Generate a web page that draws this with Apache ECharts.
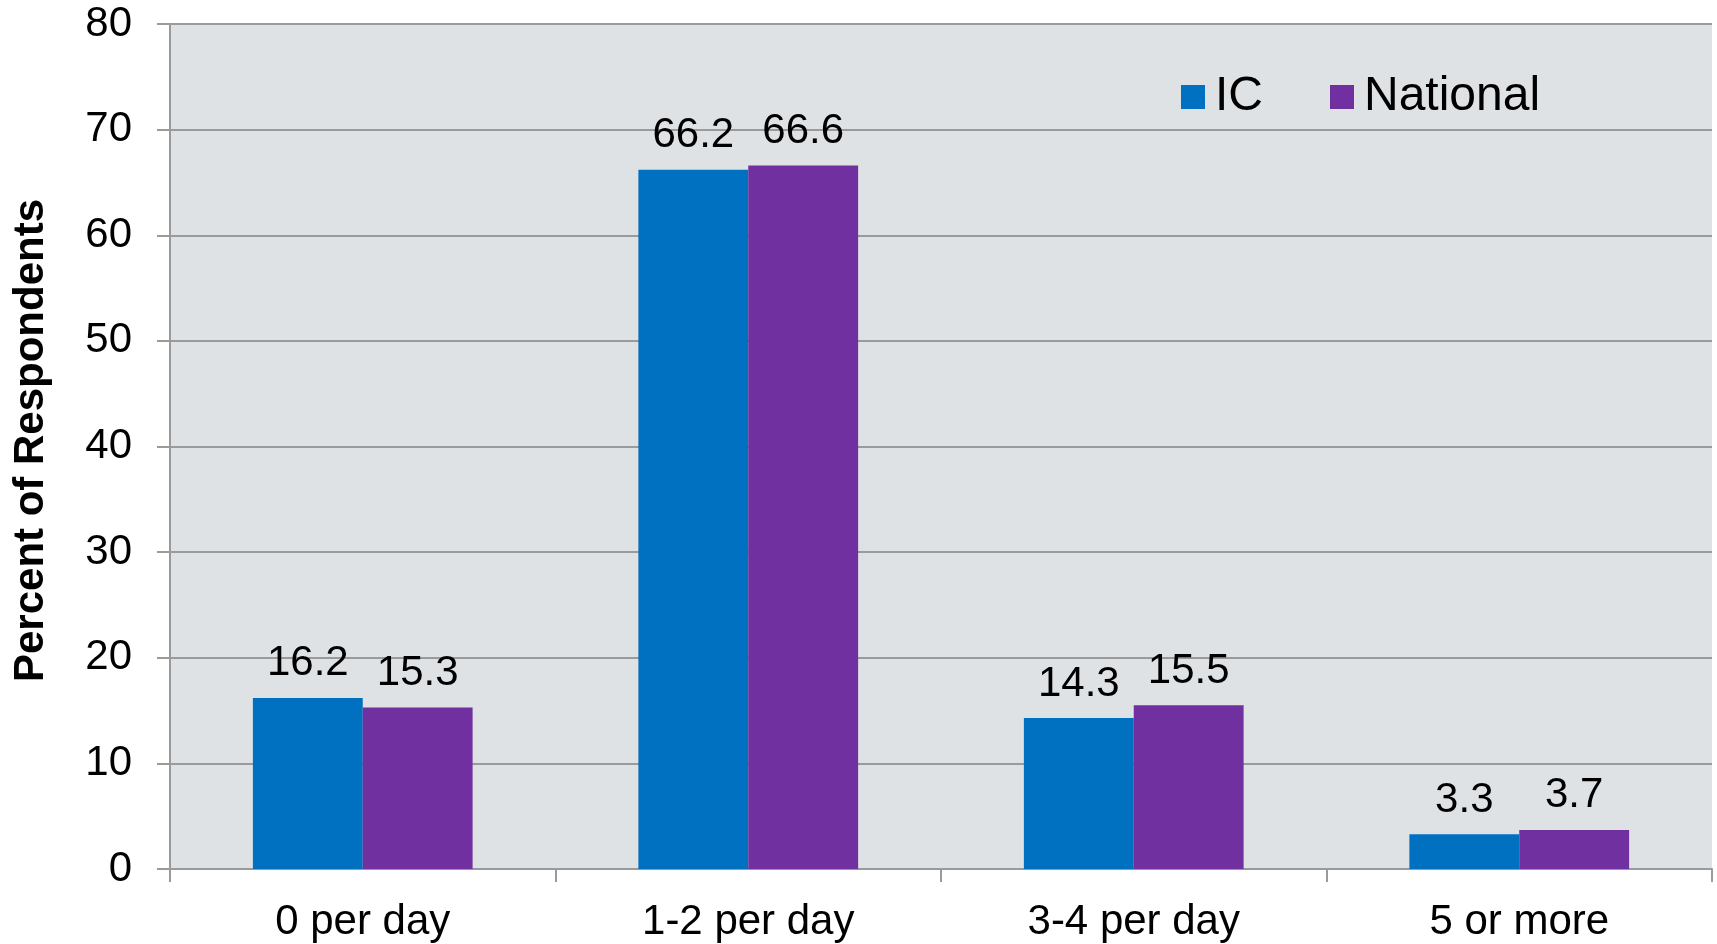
<!DOCTYPE html>
<html>
<head>
<meta charset="utf-8">
<title>Percent of Respondents</title>
<script src="https://cdn.jsdelivr.net/npm/echarts@6/dist/echarts.min.js"></script>
<style>
  html, body { margin: 0; padding: 0; background: #fff; }
  #chart { width: 1717px; height: 944px; }
</style>
</head>
<body>
<div id="chart"></div>
<script>
// data
const categories = ['0 per day', '1-2 per day', '3-4 per day', '5 or more']
const icValues = [16.2, 66.2, 14.3, 3.3]
const nationalValues = [15.3, 66.6, 15.5, 3.7]
const seriesNames = ['IC', 'National']

const font = 'Liberation Sans, Arial, sans-serif'
const gray = '#9a9a9a'

const myChart = echarts.init(document.getElementById('chart'))

// label on top of each bar
const barLabel = {
  show: true,
  position: 'top',
  distance: 13,
  color: '#000',
  fontSize: 42,
  fontFamily: font
}

myChart.setOption({
  animation: false,
  grid: {
    left: 170,
    right: 5,
    top: 24,
    bottom: 75,
    show: true,
    backgroundColor: '#dfe2e5',
    borderWidth: 0
  },
  legend: {
    data: seriesNames,
    left: 1176,
    top: 68,
    itemWidth: 24,
    itemHeight: 24,
    itemGap: 67,
    icon: 'rect',
    textStyle: {
      color: '#000',
      fontSize: 48,
      fontFamily: font,
      padding: [0, 0, 0, 5]
    }
  },
  xAxis: {
    type: 'category',
    data: categories,
    axisLine: { lineStyle: { color: gray, width: 2 } },
    axisTick: { show: true, length: 13, lineStyle: { color: gray, width: 2 } },
    axisLabel: {
      color: '#000',
      fontSize: 42,
      fontFamily: font,
      margin: 32
    }
  },
  yAxis: {
    type: 'value',
    min: 0,
    max: 80,
    interval: 10,
    name: 'Percent of Respondents',
    nameLocation: 'middle',
    nameGap: 118,
    nameTextStyle: {
      color: '#000',
      fontSize: 42,
      fontWeight: 'bold',
      fontFamily: font,
      padding: [0, 0, 0, 12]
    },
    axisLine: { show: true, lineStyle: { color: gray, width: 2 } },
    axisTick: { show: true, length: 13, lineStyle: { color: gray, width: 2 } },
    splitLine: { lineStyle: { color: gray, width: 2 } },
    axisLabel: {
      color: '#000',
      fontSize: 42,
      fontFamily: font,
      margin: 38
    }
  },
  series: [
    {
      name: seriesNames[0],
      type: 'bar',
      data: icValues,
      barGap: '0%',
      barCategoryGap: '43%',
      itemStyle: { color: '#0070c0' },
      label: barLabel
    },
    {
      name: seriesNames[1],
      type: 'bar',
      data: nationalValues,
      barGap: '0%',
      barCategoryGap: '43%',
      itemStyle: { color: '#7030a0' },
      label: barLabel
    }
  ]
})
</script>
</body>
</html>
